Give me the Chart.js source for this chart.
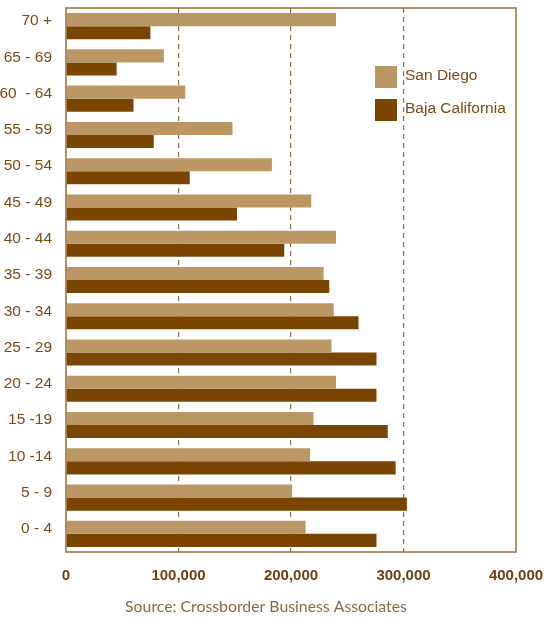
<!DOCTYPE html>
<html lang="en">
<head>
<meta charset="UTF-8">
<title>Population by age group</title>
<script src="https://cdn.jsdelivr.net/npm/chart.js"></script>
<style>
  html, body { margin: 0; padding: 0; background: #fff; }
  .wrap { width: 553px; height: 617px; position: relative; }
</style>
</head>
<body>
<div class="wrap">
  <canvas id="grafico" width="553" height="617"></canvas>
</div>

<script>
// age groups, oldest on top
var faixas = ['70 +', '65 - 69', '60  - 64', '55 - 59', '50 - 54', '45 - 49', '40 - 44',
  '35 - 39', '30 - 34', '25 - 29', '20 - 24', '15 -19', '10 -14', '5 - 9', '0 - 4'];

var sanDiego = [240000, 87000, 106000, 148000, 183000, 218000, 240000,
  229000, 238000, 236000, 240000, 220000, 217000, 201000, 213000];

var bajaCalifornia = [75000, 45000, 60000, 78000, 110000, 152000, 194000,
  234000, 260000, 276000, 276000, 286000, 293000, 303000, 276000];

var ticksX = [0, 100000, 200000, 300000, 400000];

var corSD = '#bb9766';
var corBC = '#7a4500';
var corMoldura = '#9c6b30';

Chart.defaults.font.family = "'Liberation Sans', Arial, sans-serif";

// frame around the plot, legend inside it and the source line
var extras = {
  id: 'extras',
  afterDraw: function (chart) {
    var ctx = chart.ctx;
    var a = chart.chartArea;
    ctx.save();
    ctx.strokeStyle = corMoldura;
    ctx.lineWidth = 1.5;
    ctx.strokeRect(a.left, a.top, a.right - a.left, a.bottom - a.top);

    var itens = [['San Diego', corSD], ['Baja California', corBC]];
    ctx.font = "15.5px 'Liberation Sans', Arial, sans-serif";
    ctx.textBaseline = 'middle';
    itens.forEach(function (it, i) {
      var y = 66 + i * 33;
      ctx.fillStyle = it[1];
      ctx.fillRect(375, y, 22, 22);
      ctx.fillStyle = '#7a4a12';
      ctx.fillText(it[0], 405, y + 10);
    });

    ctx.font = "15.8px Lato, 'Open Sans', sans-serif";
    ctx.fillStyle = '#8a6a40';
    ctx.textAlign = 'center';
    ctx.fillText('Source: Crossborder Business Associates', 266, 607);
    ctx.restore();
  }
};

new Chart(document.getElementById('grafico'), {
  type: 'bar',
  data: {
    labels: faixas,
    datasets: [
      { label: 'San Diego', data: sanDiego, backgroundColor: corSD },
      { label: 'Baja California', data: bajaCalifornia, backgroundColor: corBC }
    ]
  },
  options: {
    indexAxis: 'y',
    responsive: false,
    animation: false,
    layout: { padding: { top: 8, right: 37, bottom: 0, left: 0 } },
    datasets: { bar: { categoryPercentage: 0.72, barPercentage: 1 } },
    plugins: { legend: { display: false }, tooltip: { enabled: false } },
    scales: {
      x: {
        min: 0,
        max: 400000,
        afterBuildTicks: function (scale) {
          scale.ticks = ticksX.map(function (v) { return { value: v }; });
        },
        afterFit: function (scale) {
          scale.height = 65;
          scale.paddingLeft = 0;
          scale.paddingRight = 0;
        },
        grid: {
          drawTicks: false,
          color: function (c) {
            var v = c.tick ? c.tick.value : 0;
            return (v === 0 || v === 400000) ? 'rgba(0,0,0,0)' : '#8c6c48';
          },
          lineWidth: 1.2
        },
        border: { display: false, dash: [5, 4] },
        ticks: {
          padding: 15,
          color: '#6e4210',
          font: { size: 15, weight: 'bold' },
          callback: function (v) { return v.toLocaleString('en-US'); }
        }
      },
      y: {
        afterFit: function (scale) {
          scale.width = 66;
          scale.paddingTop = 0;
          scale.paddingBottom = 0;
        },
        grid: { display: false, drawTicks: false },
        border: { display: false },
        ticks: {
          padding: 14,
          labelOffset: -5,
          color: '#7a4a12',
          font: { size: 15.5 },
          autoSkip: false
        }
      }
    }
  },
  plugins: [extras]
});
</script>
</body>
</html>
